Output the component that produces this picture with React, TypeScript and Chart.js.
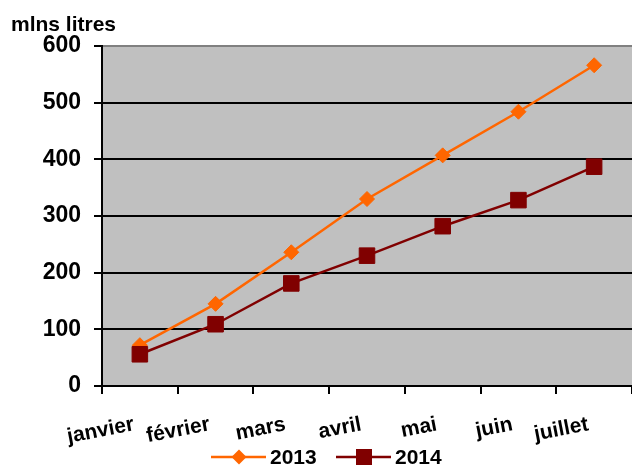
import React, { useEffect, useRef } from 'react';
import { Chart, registerables } from 'chart.js';

Chart.register(...registerables);

const months = ['janvier', 'février', 'mars', 'avril', 'mai', 'juin', 'juillet'];
const values2013 = [72, 145, 236, 330, 407, 484, 566];
const values2014 = [56, 109, 181, 230, 282, 328, 387];
const seriesNames = ['2013', '2014'];
const yUnitLabel = 'mlns litres';
const yMin = 0;
const yMax = 600;
const yStep = 100;

const FONT = '"Liberation Sans", Arial, sans-serif';
const ORANGE = '#FF6600';
const MAROON = '#800000';

const backgroundPlugin = {
  id: 'plotBg',
  beforeDraw(chart: any) {
    const { ctx, chartArea } = chart;
    ctx.save();
    ctx.fillStyle = '#C0C0C0';
    ctx.fillRect(chartArea.left, chartArea.top, chartArea.right - chartArea.left, chartArea.bottom - chartArea.top);
    ctx.restore();
  },
};

const textPlugin = {
  id: 'extraText',
  afterDraw(chart: any) {
    const { ctx } = chart;
    ctx.save();
    ctx.fillStyle = '#000';
    ctx.font = `bold 21px ${FONT}`;
    ctx.textAlign = 'left';
    ctx.textBaseline = 'alphabetic';
    ctx.fillText(yUnitLabel, 11, 31);

    // legend
    const y = 457;
    const items = [
      { x: 211, color: ORANGE, style: 'diamond', label: seriesNames[0] },
      { x: 336, color: MAROON, style: 'square', label: seriesNames[1] },
    ];
    ctx.font = `bold 21px ${FONT}`;
    ctx.textBaseline = 'middle';
    for (const it of items) {
      ctx.strokeStyle = it.color;
      ctx.lineWidth = 2.5;
      ctx.beginPath();
      ctx.moveTo(it.x, y);
      ctx.lineTo(it.x + 55, y);
      ctx.stroke();
      const cx = it.x + 28;
      ctx.fillStyle = it.color;
      ctx.beginPath();
      if (it.style === 'diamond') {
        const r = 7.5;
        ctx.moveTo(cx, y - r);
        ctx.lineTo(cx + r, y);
        ctx.lineTo(cx, y + r);
        ctx.lineTo(cx - r, y);
        ctx.closePath();
      } else {
        ctx.rect(cx - 8, y - 8, 16, 16);
      }
      ctx.fill();
      ctx.fillStyle = '#000';
      ctx.fillText(it.label, it.x + 59, y + 1);
    }
    ctx.restore();
  },
};

export default function App() {
  const canvasRef = useRef<HTMLCanvasElement | null>(null);

  useEffect(() => {
    const canvas = canvasRef.current;
    if (!canvas) return;
    const chart = new Chart(canvas, {
      type: 'line',
      data: {
        labels: months,
        datasets: [
          {
            label: seriesNames[0],
            data: values2013,
            borderColor: ORANGE,
            backgroundColor: ORANGE,
            borderWidth: 2.5,
            pointStyle: 'rectRot',
            pointRadius: 7.5,
            pointBorderWidth: 1,
            pointBackgroundColor: ORANGE,
            pointBorderColor: ORANGE,
            tension: 0,
            order: 2,
          },
          {
            label: seriesNames[1],
            data: values2014,
            borderColor: MAROON,
            backgroundColor: MAROON,
            borderWidth: 2.5,
            pointStyle: 'rect',
            pointRadius: 11,
            pointBorderWidth: 1,
            pointBackgroundColor: MAROON,
            pointBorderColor: MAROON,
            tension: 0,
            order: 1,
          },
        ],
      },
      options: {
        animation: false,
        responsive: false,
        devicePixelRatio: 1,
        layout: { autoPadding: false, padding: { top: 46, right: -2, bottom: 0, left: 0 } },
        plugins: {
          legend: { display: false },
          tooltip: { enabled: false },
          title: { display: false },
        },
        scales: {
          x: {
            type: 'category',
            offset: true,
            grid: {
              offset: true,
              drawOnChartArea: false,
              drawTicks: true,
              tickLength: 8,
              color: '#000',
              lineWidth: 2,
            },
            border: { display: true, color: '#000', width: 2 },
            ticks: {
              color: '#000',
              font: { family: FONT, size: 21, weight: 'bold' },
              minRotation: 11,
              maxRotation: 11,
              autoSkip: false,
              padding: 18,
              labelOffset: -6,
            },
            afterFit: (s: any) => {
              s.height = 80;
              s.paddingLeft = 0;
              s.paddingRight = 0;
            },
          },
          y: {
            min: yMin,
            max: yMax,
            grid: {
              color: (c: any) => (c.tick && c.tick.value === yMax ? '#808080' : '#000'),
              lineWidth: 2,
              tickLength: 8,
              tickColor: '#000',
              tickWidth: 2,
            },
            border: { display: true, color: '#000', width: 2 },
            ticks: {
              stepSize: yStep,
              color: '#000',
              font: { family: FONT, size: 23, weight: 'bold' },
              padding: 13,
            },
            afterFit: (s: any) => {
              s.width = 102;
              s.paddingTop = 0;
              s.paddingBottom = 0;
            },
          },
        },
      },
      plugins: [backgroundPlugin, textPlugin],
    } as any);
    return () => chart.destroy();
  }, []);

  return (
    <div
      style={{
        position: 'fixed',
        left: 0,
        top: 0,
        width: 632,
        height: 466,
        overflow: 'hidden',
        background: '#fff',
      }}
    >
      <canvas ref={canvasRef} width={632} height={466} style={{ display: 'block', width: 632, height: 466 }} />
    </div>
  );
}
